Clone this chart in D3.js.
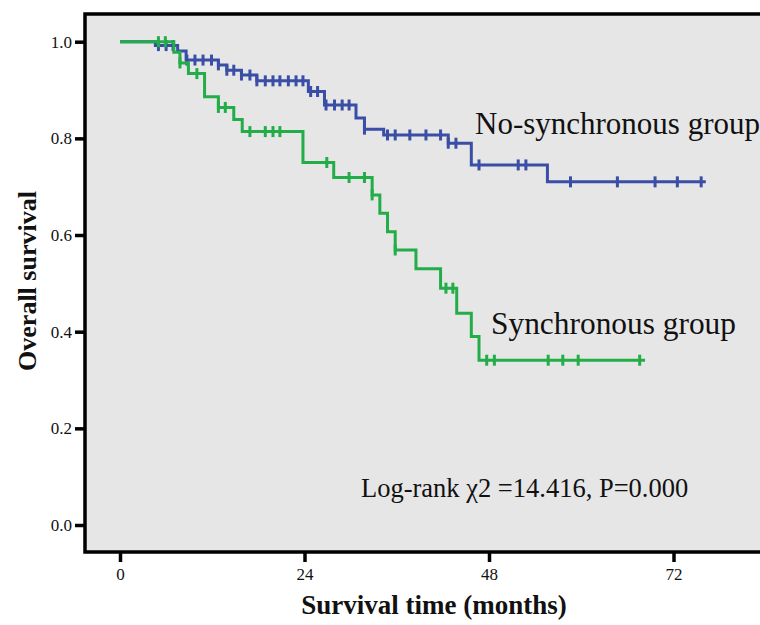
<!DOCTYPE html>
<html>
<head>
<meta charset="utf-8">
<script src="https://cdn.jsdelivr.net/npm/d3@7"></script>
<style>
  html, body { margin: 0; padding: 0; background: #ffffff; }
  svg { display: block; }
</style>
</head>
<body>
<svg id="chart" width="760" height="625"></svg>
<script>
// ---------------- data ----------------
const xTicks = [0, 24, 48, 72];
const yTicks = [0.0, 0.2, 0.4, 0.6, 0.8, 1.0];

// Synchronous group (green): [time in months, survival after event]
const syncEvents = [
  [7.0, 0.978], [7.8, 0.956], [8.9, 0.934], [11.0, 0.886], [12.8, 0.864],
  [14.8, 0.839], [15.9, 0.814], [23.8, 0.750], [27.8, 0.719], [32.8, 0.683],
  [33.8, 0.645], [34.8, 0.607], [35.8, 0.569], [38.5, 0.530], [41.7, 0.490],
  [43.8, 0.438], [45.7, 0.390], [46.7, 0.341]
];
const syncEnd = 68.3;
const syncCensored = [
  5.0, 5.9, 7.8, 10.0, 12.8, 13.7, 16.9, 18.9, 19.9, 20.8, 26.9, 29.8, 31.8,
  32.8, 35.8, 42.4, 43.3, 47.7, 48.7, 55.7, 57.6, 59.6, 67.6
];

// No-synchronous group (blue)
const noSyncEvents = [
  [4.6, 0.992], [7.5, 0.981], [8.6, 0.962], [12.8, 0.952], [13.9, 0.941],
  [15.8, 0.931], [17.8, 0.919], [24.5, 0.897], [26.6, 0.869], [30.7, 0.842],
  [31.8, 0.819], [34.3, 0.807], [42.7, 0.790], [45.7, 0.745], [55.6, 0.710]
];
const noSyncEnd = 76.2;
const noSyncCensored = [
  5.0, 6.0, 6.9, 8.7, 9.75, 10.8, 11.9, 12.8, 13.9, 14.8, 15.8, 16.9,
  17.8, 18.9, 19.9, 20.8, 21.9, 22.9, 23.8, 24.8, 25.7, 26.8, 27.9, 28.9,
  29.8, 31.8, 34.8, 35.8, 37.7, 39.8, 41.7, 42.7, 43.7, 46.7, 51.8, 52.8,
  58.6, 64.7, 69.6, 72.5, 75.6
];

const groupLabels = ["No-synchronous group", "Synchronous group"];
const statText = "Log-rank \u03c72 =14.416, P=0.000";
const xTitle = "Survival time (months)";
const yTitle = "Overall survival";

// ---------------- drawing ----------------
const serif = "'Liberation Serif', 'Times New Roman', Times, serif";
const svg = d3.select("#chart");

const x = d3.scaleLinear().domain([0, 72]).range([120, 673.5]);
const y = d3.scaleLinear().domain([0, 1]).range([525, 41.7]);

const frame = { left: 85, top: 14, bottom: 552, right: 800 };

svg.append("rect")
  .attr("x", frame.left).attr("y", frame.top)
  .attr("width", frame.right - frame.left)
  .attr("height", frame.bottom - frame.top)
  .attr("fill", "#e6e6e6")
  .attr("stroke", "#000")
  .attr("stroke-width", 3.5);

// axes
const yAxis = d3.axisLeft(y).tickValues(yTicks).tickFormat(d3.format(".1f"))
  .tickSize(10).tickPadding(3);
const gy = svg.append("g").attr("transform", `translate(${frame.left},0)`).call(yAxis);
gy.select(".domain").remove();
gy.selectAll(".tick line").attr("stroke", "#000").attr("stroke-width", 3.5);
gy.selectAll(".tick text").attr("font-family", serif).attr("font-size", 17).attr("fill", "#111");

const xAxis = d3.axisBottom(x).tickValues(xTicks).tickFormat(d3.format("d"))
  .tickSize(10).tickPadding(6);
const gx = svg.append("g").attr("transform", `translate(0,${frame.bottom})`).call(xAxis);
gx.select(".domain").remove();
gx.selectAll(".tick line").attr("stroke", "#000").attr("stroke-width", 3.5);
gx.selectAll(".tick text").attr("font-family", serif).attr("font-size", 17).attr("fill", "#111");

// survival curves
function stepPoints(events, end) {
  const pts = [[0, 1]];
  events.forEach(e => pts.push(e));
  pts.push([end, events[events.length - 1][1]]);
  return pts;
}
function survAt(events, t) {
  let s = 1;
  events.forEach(e => { if (e[0] <= t + 1e-9) s = e[1]; });
  return s;
}
const line = d3.line().x(d => x(d[0])).y(d => y(d[1])).curve(d3.curveStepAfter);

const groups = [
  { events: noSyncEvents, end: noSyncEnd, cens: noSyncCensored, color: "#3a4ea6" },
  { events: syncEvents, end: syncEnd, cens: syncCensored, color: "#22ad48" }
];

groups.forEach(g => {
  svg.append("path")
    .attr("d", line(stepPoints(g.events, g.end)))
    .attr("fill", "none")
    .attr("stroke", g.color)
    .attr("stroke-width", 3);
  svg.append("g").selectAll("line").data(g.cens).join("line")
    .attr("x1", d => x(d)).attr("x2", d => x(d))
    .attr("y1", d => y(survAt(g.events, d)) - 5.5)
    .attr("y2", d => y(survAt(g.events, d)) + 5.5)
    .attr("stroke", g.color)
    .attr("stroke-width", 3);
});

// labels
svg.append("text").attr("x", 475).attr("y", 134)
  .attr("font-family", serif).attr("font-size", 31).attr("fill", "#111")
  .text(groupLabels[0]);
svg.append("text").attr("x", 491).attr("y", 334)
  .attr("font-family", serif).attr("font-size", 31.4).attr("fill", "#111")
  .text(groupLabels[1]);
svg.append("text").attr("x", 361).attr("y", 497)
  .attr("font-family", serif).attr("font-size", 26.5).attr("fill", "#111")
  .text(statText);

svg.append("text").attr("x", 434).attr("y", 614)
  .attr("text-anchor", "middle")
  .attr("font-family", serif).attr("font-size", 27).attr("font-weight", "bold").attr("fill", "#111")
  .text(xTitle);
svg.append("text").attr("transform", "translate(36,281) rotate(-90)")
  .attr("text-anchor", "middle")
  .attr("font-family", serif).attr("font-size", 26).attr("font-weight", "bold").attr("fill", "#111")
  .text(yTitle);
</script>
</body>
</html>
